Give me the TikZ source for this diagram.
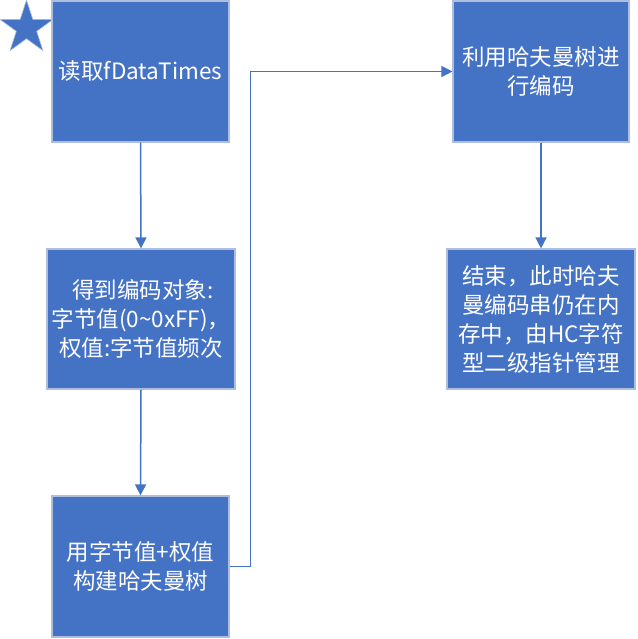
\documentclass[tikz,border=0pt]{standalone}
\usepackage{fontspec}
\newfontfamily\cjk{Noto Sans CJK SC}
\usetikzlibrary{shapes.geometric,arrows.meta}
\definecolor{boxblue}{HTML}{4472C4}
\definecolor{boxedge}{HTML}{B0BEDD}
\tikzset{
  stepbox/.style={draw=boxedge, line width=1.2pt, fill=boxblue, text=white,
    inner sep=0pt, align=center,
    font=\cjk\fontsize{22.5}{29}\selectfont},
  arr/.style={draw=boxblue, line width=1.5pt, -{Triangle[width=11pt,length=11pt]}}
}
\begin{document}
\begin{tikzpicture}[x=1pt,y=-1pt]
\useasboundingbox (0,0) rectangle (637,639);
\node[star, star points=5, star point ratio=2.618, fill=boxblue, draw=boxedge, line width=0.6pt,
      minimum size=56pt, inner sep=0pt] (st) at (26.5,28) {};
\node[stepbox, minimum width=177pt, minimum height=141pt] (b1) at (140.5,71.5) {读取fDataTimes};
\node[stepbox, minimum width=188pt, minimum height=140pt] (b2) at (141,319)
  {\,得到编码对象:\\字节值(0\textasciitilde0xFF)，\\权值:字节值频次};
\node[stepbox, minimum width=177pt, minimum height=141pt] (b3) at (140.5,566.5)
  {用字节值+权值\\构建哈夫曼树};
\node[stepbox, minimum width=176pt, minimum height=141pt] (b4) at (541,71.5)
  {利用哈夫曼树进\\行编码};
\node[stepbox, minimum width=188pt, minimum height=140pt] (b5) at (541,319)
  {结束，此时哈夫\\曼编码串仍在内\\存中，由HC字符\\型二级指针管理};
\draw[arr] (b1.south) -- (b2.north);
\draw[arr] (b2.south) -- (b3.north);
\draw[arr] (b3.east) -- ++(21,0) |- (b4.west);
\draw[arr] (b4.south) -- (b5.north);
\end{tikzpicture}
\end{document}
